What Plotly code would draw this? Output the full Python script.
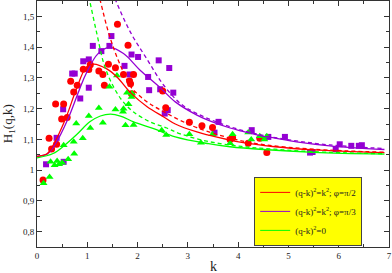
import plotly.graph_objects as go

# ---- data points ----
red_k = [0.12, 0.24, 0.29, 0.37, 0.39, 0.49, 0.53, 0.60, 0.67, 0.73, 0.80, 0.92, 1.03, 1.06,
         1.23, 1.31, 1.34, 1.42, 1.56, 1.60, 1.72, 1.81, 1.84, 1.86, 1.88, 1.92, 2.50, 2.56,
         3.03, 3.28, 3.49, 3.84, 3.89, 4.20, 4.43, 4.57]
red_h = [0.968, 1.104, 1.069, 1.215, 1.084, 1.166, 1.215, 1.171, 1.289, 1.254, 1.276, 1.328, 1.327, 1.343,
         1.322, 1.311, 1.276, 1.344, 1.333, 1.474, 1.311, 1.406, 1.290, 1.281, 1.248, 1.311, 1.257, 1.203,
         1.156, 1.144, 1.139, 1.100, 1.105, 1.087, 1.104, 1.057]

pur_k = [0.18, 0.39, 0.52, 0.53, 0.70, 0.75, 0.86, 0.92, 1.03, 1.03, 1.11, 1.28, 1.44, 1.48,
         1.74, 1.84, 1.88, 2.01, 2.21, 2.23, 2.42, 2.45, 2.54, 2.60, 2.63, 2.71, 3.53, 3.61,
         4.27, 4.60, 4.93, 5.43, 5.48, 5.94, 6.02, 6.25, 6.40, 6.46]
pur_h = [1.019, 1.105, 1.198, 1.027, 1.314, 1.314, 1.233, 1.354, 1.268, 1.360, 1.404, 1.387, 1.404, 1.436,
         1.339, 1.311, 1.376, 1.368, 1.303, 1.260, 1.357, 1.263, 1.184, 1.195, 1.332, 1.252, 1.122, 1.157,
         1.130, 1.108, 1.108, 1.057, 1.059, 1.068, 1.084, 1.079, 1.079, 1.081]

grn_k = [0.13, 0.25, 0.27, 0.35, 0.40, 0.44, 0.50, 0.53, 0.62, 0.73, 0.74, 0.78, 0.91, 1.03,
         1.06, 1.23, 1.31, 1.44, 1.56, 1.59, 1.71, 1.72, 1.76, 1.79, 1.82, 1.88, 1.89, 1.92,
         2.48, 2.57, 3.03, 3.26, 3.49, 3.84, 3.89, 4.20, 4.26, 4.43, 4.52, 4.57]
grn_h = [0.957, 0.978, 1.027, 1.016, 1.030, 1.019, 1.024, 1.081, 1.035, 1.092, 1.053, 1.152, 1.104, 1.176,
         1.137, 1.202, 1.154, 1.271, 1.197, 1.308, 1.190, 1.200, 1.146, 1.252, 1.214, 1.238, 1.249, 1.147,
         1.130, 1.114, 1.117, 1.089, 1.117, 1.087, 1.117, 1.122, 1.100, 1.110, 1.100, 1.110]

# ---- curves ----
pur_fit_k = [0, 0.2, 0.35, 0.62, 0.85, 0.98, 1.21, 1.44, 1.72, 2.05, 2.45, 2.75, 3.18, 3.41,
             3.84, 4.07, 4.50, 4.73, 5.16, 5.82, 6.91]
pur_fit_h = [1.045, 1.052, 1.081, 1.168, 1.265, 1.315, 1.378, 1.399, 1.379, 1.325, 1.268, 1.222, 1.179, 1.162,
             1.137, 1.127, 1.110, 1.104, 1.092, 1.079, 1.067]
red_fit_k = [0, 0.2, 0.32, 0.57, 0.78, 0.98, 1.13, 1.38, 1.59, 1.86, 2.19, 2.52, 2.75, 3.18,
             3.41, 4.07, 4.73, 5.5, 6.91]
red_fit_h = [1.045, 1.053, 1.081, 1.168, 1.262, 1.335, 1.345, 1.330, 1.303, 1.252, 1.206, 1.173, 1.150, 1.124,
             1.114, 1.090, 1.076, 1.066, 1.057]
grn_fit_k = [0, 0.32, 0.55, 0.78, 1.05, 1.26, 1.46, 1.66, 1.92, 2.32, 2.75, 3.41, 3.84, 4.50, 5.5, 6.91]
grn_fit_h = [1.040, 1.054, 1.081, 1.114, 1.157, 1.176, 1.182, 1.176, 1.157, 1.135, 1.108, 1.086, 1.076,
             1.067, 1.058, 1.052]

pur_asy_k = [1.45, 1.57, 1.86, 2.19, 2.52, 2.85, 3.18, 3.84, 4.5, 5.16, 5.82, 6.91]
pur_asy_h = [1.60, 1.55, 1.448, 1.36, 1.276, 1.217, 1.184, 1.141, 1.113, 1.095, 1.082, 1.070]
red_asy_k = [1.18, 1.26, 1.40, 1.55, 1.72, 1.86, 2.05, 2.25, 2.52, 2.81, 3.18, 3.84, 4.5, 5.5, 6.91]
red_asy_h = [1.60, 1.55, 1.46, 1.385, 1.318, 1.272, 1.240, 1.215, 1.190, 1.165, 1.138, 1.104, 1.083,
             1.068, 1.058]
grn_asy_k = [0.98, 1.05, 1.19, 1.33, 1.49, 1.69, 1.92, 2.25, 2.58, 2.85, 3.41, 4.07, 4.73, 5.5, 6.91]
grn_asy_h = [1.61, 1.55, 1.444, 1.346, 1.281, 1.227, 1.189, 1.157, 1.137, 1.118, 1.093, 1.077, 1.068,
             1.060, 1.053]

legend_labels = ["(q-k)<sup>2</sup>=k<sup>2</sup>; φ=π/2",
                 "(q-k)<sup>2</sup>=k<sup>2</sup>; φ=π/3",
                 "(q-k)<sup>2</sup>=0"]
y_ticks = [0.8, 0.9, 1.0, 1.1, 1.2, 1.3, 1.4, 1.5]
y_ticktext = ["0,8", "0,9", "1", "1,1", "1,2", "1,3", "1,4", "1,5"]

RED = "#ff0000"
PUR = "#9400d3"
GRN = "#00ff00"
FONT = "Liberation Serif"

fig = go.Figure()

# markers
fig.add_trace(go.Scatter(x=pur_k, y=pur_h, mode="markers", showlegend=False,
                         marker=dict(symbol="square", size=6, color=PUR)))
fig.add_trace(go.Scatter(x=red_k, y=red_h, mode="markers", showlegend=False,
                         marker=dict(symbol="circle", size=7, color=RED)))
fig.add_trace(go.Scatter(x=grn_k, y=grn_h, mode="markers", showlegend=False,
                         marker=dict(symbol="triangle-up", size=7, color=GRN)))

# curves
for kk, hh, c in [(pur_fit_k, pur_fit_h, PUR), (red_fit_k, red_fit_h, RED), (grn_fit_k, grn_fit_h, GRN)]:
    fig.add_trace(go.Scatter(x=kk, y=hh, mode="lines", showlegend=False,
                             line=dict(color=c, width=1.3, shape="spline")))
for kk, hh, c in [(pur_asy_k, pur_asy_h, PUR), (red_asy_k, red_asy_h, RED), (grn_asy_k, grn_asy_h, GRN)]:
    fig.add_trace(go.Scatter(x=kk, y=hh, mode="lines", showlegend=False,
                             line=dict(color=c, width=1.3, shape="spline", dash="4px,3px")))

# legend entries
for lab, c in zip(legend_labels, [RED, PUR, GRN]):
    fig.add_trace(go.Scatter(x=[None], y=[None], mode="lines", name=lab,
                             line=dict(color=c, width=1)))

axis_common = dict(showline=True, linecolor="#333333", linewidth=1, mirror="ticks",
                   ticks="inside", ticklen=5, tickcolor="#333333", tickwidth=1,
                   showgrid=False, zeroline=False,
                   tickfont=dict(family=FONT, size=9, color="#222222"))

fig.update_xaxes(range=[0, 7], tickmode="linear", tick0=0, dtick=1,
                 minor=dict(tick0=0, dtick=0.5, ticks="inside", ticklen=3, tickcolor="#333333"),
                 **axis_common)
fig.update_yaxes(range=[0.75, 1.55], tickmode="array", tickvals=y_ticks, ticktext=y_ticktext,
                 minor=dict(tick0=0.75, dtick=0.05, ticks="inside", ticklen=3, tickcolor="#333333"),
                 **axis_common)

fig.update_layout(
    width=392, height=273,
    margin=dict(l=37, r=3, t=1, b=26),
    paper_bgcolor="white", plot_bgcolor="white",
    font=dict(family=FONT, size=9, color="#222222"),
    legend=dict(x=0.617, y=0.285, xanchor="left", yanchor="top",
                bgcolor="#ffff00", bordercolor="#444444", borderwidth=1,
                font=dict(family=FONT, size=9, color="#222222"),
                itemwidth=30, tracegroupgap=0),
    annotations=[
        dict(text="H<sub>1</sub>(q,k)", xref="paper", yref="paper", x=-0.082, y=0.5,
             xanchor="center", yanchor="middle", textangle=-90, showarrow=False,
             font=dict(family=FONT, size=13, color="#222222")),
        dict(text="k", xref="paper", yref="paper", x=0.5, y=-0.08,
             xanchor="center", yanchor="middle", showarrow=False,
             font=dict(family=FONT, size=14, color="#222222")),
    ],
)

fig.write_html("out.html", config={"displayModeBar": False},
               post_script="document.body.style.margin='0';document.body.style.overflow='hidden';")
